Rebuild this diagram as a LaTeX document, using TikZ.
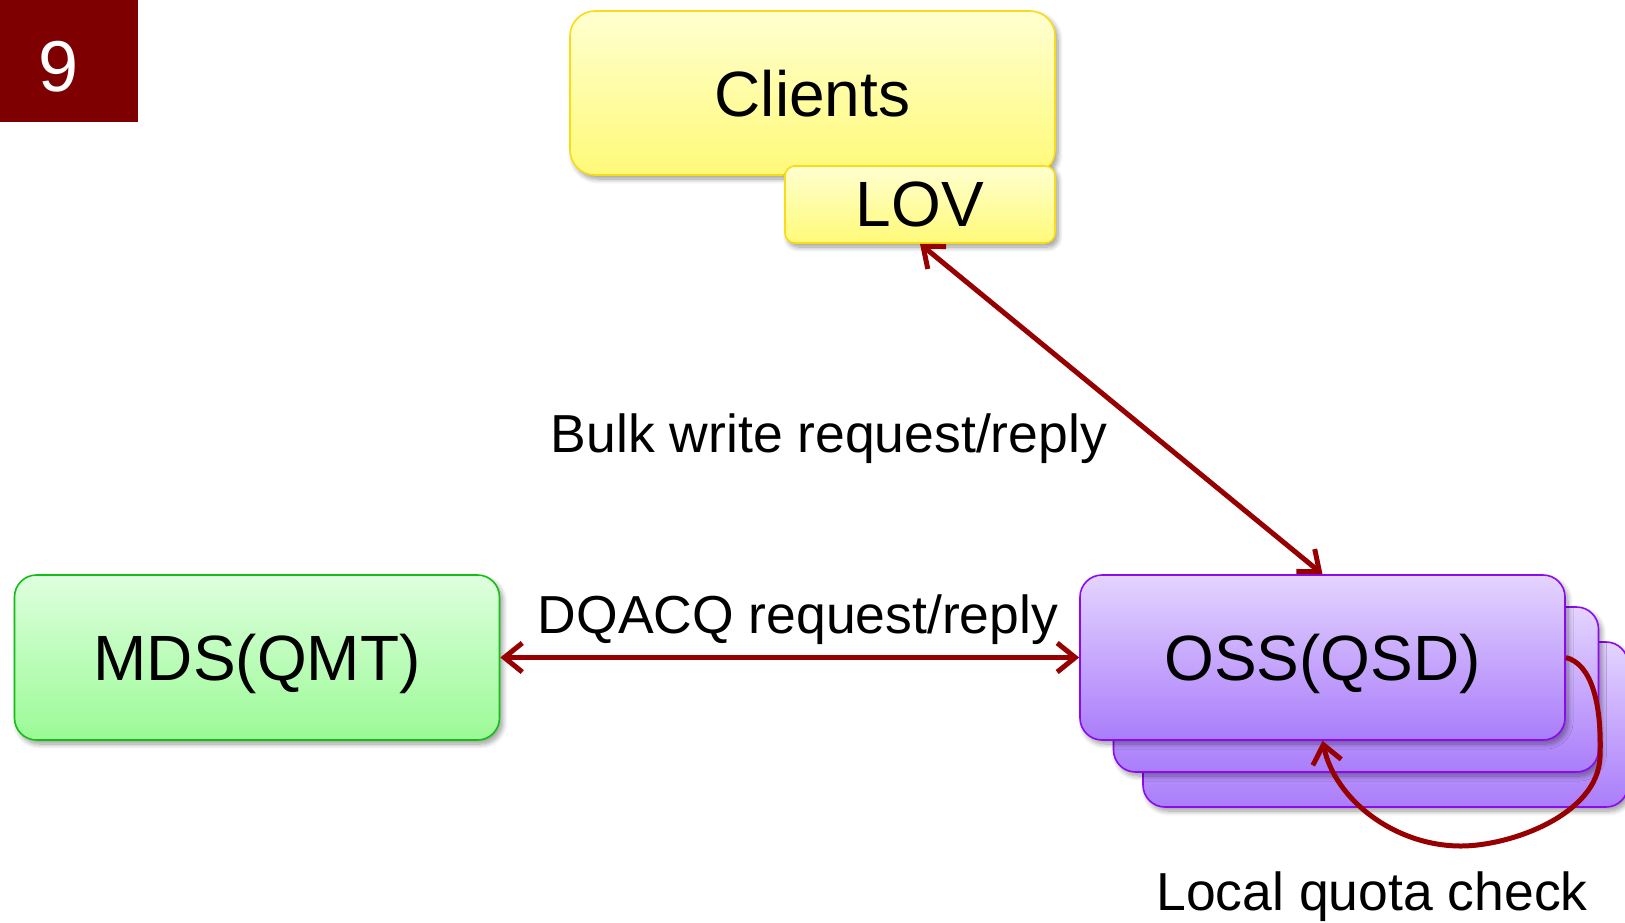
\documentclass[tikz,border=0pt]{standalone}
\usepackage{fontspec}
\setmainfont{Liberation Sans}
\usetikzlibrary{arrows.meta,shadows.blur}

\definecolor{badgered}{RGB}{127,0,0}
\definecolor{linkred}{RGB}{150,0,0}
\definecolor{ylwtop}{RGB}{255,255,208}
\definecolor{ylwbot}{RGB}{255,250,120}
\definecolor{ylwline}{RGB}{250,220,20}
\definecolor{grntop}{RGB}{222,255,222}
\definecolor{grnbot}{RGB}{155,250,150}
\definecolor{grnline}{RGB}{20,190,20}
\definecolor{purtop}{RGB}{228,212,255}
\definecolor{purbot}{RGB}{170,125,250}
\definecolor{purline}{RGB}{140,10,240}

\tikzset{
  softshadow/.style={blur shadow={shadow xshift=3pt, shadow yshift=-4pt,
      shadow blur radius=5pt, shadow blur steps=10, shadow opacity=40}},
  box/.style={rectangle, rounded corners=22pt, line width=1.6pt, inner sep=0pt,
      minimum width=485pt, minimum height=165pt, text depth=0pt,
      font=\fontsize{64}{70}\selectfont, softshadow},
  ybox/.style={box, draw=ylwline, top color=ylwtop, bottom color=ylwbot},
  gbox/.style={box, draw=grnline, top color=grntop, bottom color=grnbot},
  pbox/.style={box, draw=purline, top color=purtop, bottom color=purbot},
  lbl/.style={anchor=base, inner sep=0pt, font=\fontsize{53.5}{60}\selectfont},
  barb/.tip={Straight Barb[length=18pt,width=29pt]},
  link/.style={draw=linkred, line width=5pt, line join=round, barb-barb},
  onelink/.style={draw=linkred, line width=5pt, line join=round, -barb}
}

\begin{document}
\begin{tikzpicture}[x=1pt, y=-1pt]
\useasboundingbox (0,0) rectangle (1625,922);
\clip (0,0) rectangle (1625,922);

% slide number badge
\node[fill=badgered, minimum width=138pt, minimum height=122pt, inner sep=0pt,
      anchor=north west] (badge) at (0,0) {};
\node[anchor=base, text=white, inner sep=0pt, font=\fontsize{72}{80}\selectfont]
      (num) at (59,91) {9};

% client side
\node[ybox, rounded corners=25pt, minimum width=485pt, minimum height=164pt]
      (clients) at (812.5,93) {Clients};
\node[ybox, rounded corners=10pt, minimum width=270pt, minimum height=77pt]
      (lov) at (920,204.5) {LOV};

% metadata server
\node[gbox] (mds) at (257,657.5) {MDS(QMT)};

% stack of object storage servers
\node[pbox] (oss3) at (1385.5,724.5) {};
\node[pbox] (oss2) at (1356,689.5) {};
\node[pbox] (oss) at (1322.5,657.5) {OSS(QSD)};

% connectors
\draw[link] (lov.south) -- (oss.north);
\draw[link] (mds.east) -- (oss.west);
\draw[onelink] (oss.east)
   .. controls (1592,664) and (1602,705) .. (1600,757)
   .. controls (1598,815) and (1510,846) .. (1461,846)
   .. controls (1395,846) and (1335,800) .. (oss.south);

% labels
\node[lbl] (bulk) at (829,452) {Bulk write request/reply};
\node[lbl] (dqacq) at (798,633) {DQACQ request/reply};
\node[lbl] (local) at (1372,910) {Local quota check};
\end{tikzpicture}
\end{document}
